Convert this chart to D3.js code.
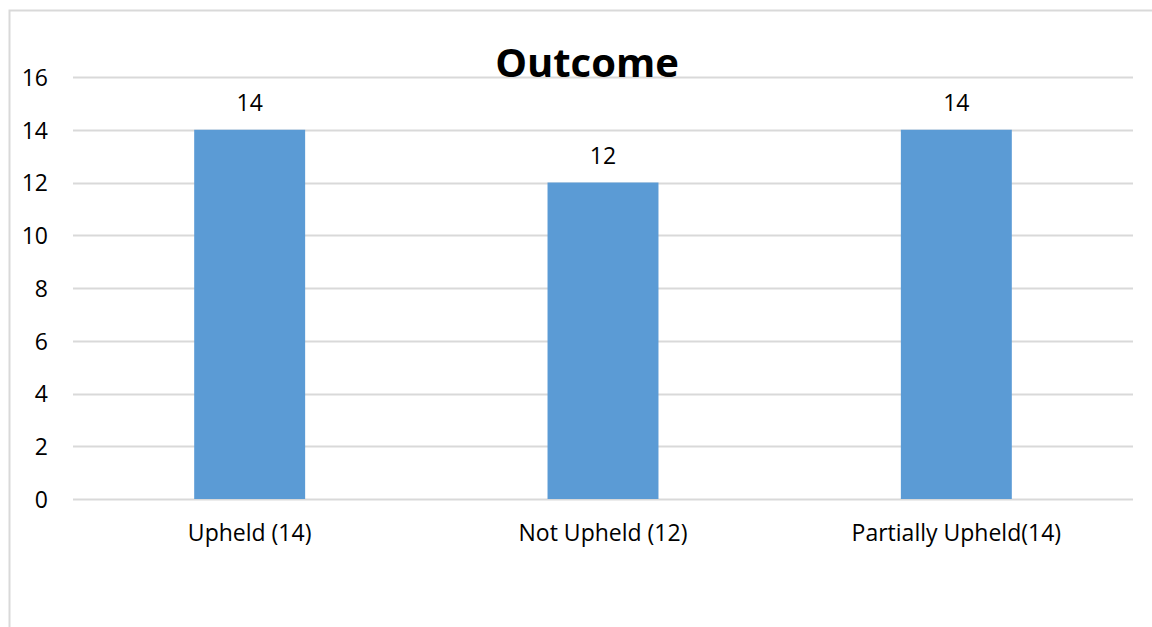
<!DOCTYPE html>
<html>
<head>
<meta charset="utf-8">
<script src="https://cdn.jsdelivr.net/npm/d3@7/dist/d3.min.js"></script>
<style>
  html, body { margin: 0; padding: 0; background: #fff; }
  svg { display: block; }
  text { font-family: "Open Sans", Lato, "Liberation Sans", sans-serif; fill: #000; }
</style>
</head>
<body>
<svg id="chart" width="1152" height="627"></svg>
<script>
// Complaint outcomes
const categories = ["Upheld (14)", "Not Upheld (12)", "Partially Upheld(14)"];
const counts = [14, 12, 14];
const yTicks = [0, 2, 4, 6, 8, 10, 12, 14, 16];
const title = "Outcome";

const svg = d3.select("#chart");
const plot = { left: 73, right: 1133, top: 77, bottom: 499 };
const labelSize = 23;

// chart frame
svg.append("rect")
  .attr("x", 9.5).attr("y", 10.5)
  .attr("width", 1150).attr("height", 630)
  .attr("fill", "#fff").attr("stroke", "#d9d9d9").attr("stroke-width", 2);

const x = d3.scaleBand()
  .domain(categories)
  .range([plot.left, plot.right])
  .paddingInner(0.686)
  .paddingOuter(0.343);

const y = d3.scaleLinear()
  .domain([0, 16])
  .range([plot.bottom, plot.top]);

// horizontal gridlines
svg.append("g")
  .selectAll("line")
  .data(yTicks)
  .join("line")
  .attr("x1", plot.left).attr("x2", plot.right)
  .attr("y1", d => Math.round(y(d)) + 0.5)
  .attr("y2", d => Math.round(y(d)) + 0.5)
  .attr("stroke", "#d9d9d9")
  .attr("stroke-width", 2);

// y axis tick labels
const yAxis = d3.axisLeft(y).tickValues(yTicks).tickSize(0).tickPadding(0);
const yg = svg.append("g")
  .attr("transform", `translate(${plot.left - 25},0)`)
  .call(yAxis);
yg.select(".domain").remove();
yg.selectAll("text")
  .attr("font-size", labelSize)
  .attr("font-family", null)
  .attr("dy", "0.36em");

// bars
svg.append("g")
  .selectAll("rect")
  .data(categories)
  .join("rect")
  .attr("x", d => x(d))
  .attr("width", x.bandwidth())
  .attr("y", (d, i) => y(counts[i]))
  .attr("height", (d, i) => y(0) - y(counts[i]))
  .attr("fill", "#5b9bd5");

// value labels
svg.append("g")
  .selectAll("text")
  .data(categories)
  .join("text")
  .attr("x", d => x(d) + x.bandwidth() / 2)
  .attr("y", (d, i) => y(counts[i]) - 19)
  .attr("text-anchor", "middle")
  .attr("font-size", labelSize)
  .text((d, i) => counts[i]);

// category axis labels
const xAxis = d3.axisBottom(x).tickSize(0).tickPadding(0);
const xg = svg.append("g")
  .attr("transform", `translate(0,${plot.bottom + 42})`)
  .call(xAxis);
xg.select(".domain").remove();
xg.selectAll("text")
  .attr("font-size", labelSize)
  .attr("font-family", null)
  .attr("dy", 0);

// title
svg.append("text")
  .attr("x", 587)
  .attr("y", 77)
  .attr("text-anchor", "middle")
  .attr("font-size", 40)
  .attr("font-weight", "bold")
  .text(title);
</script>
</body>
</html>
